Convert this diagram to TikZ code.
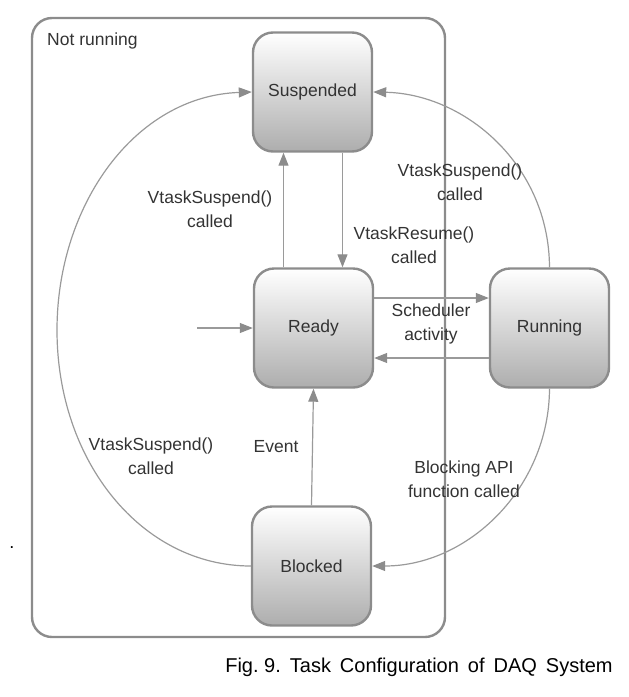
\documentclass[tikz,border=0pt]{standalone}
\usepackage{fontspec}
\setmainfont{Liberation Sans}
\usetikzlibrary{arrows.meta}
\definecolor{edgegray}{HTML}{8C8C8C}
\definecolor{linegray}{HTML}{9A9A9A}
\definecolor{txtgray}{HTML}{333333}
\newcommand{\capgap}{\hspace{9pt}}
\begin{document}
\begin{tikzpicture}[x=1pt,y=-1pt,
  state/.style={draw=edgegray, line width=2.4pt, rounded corners=20pt,
    minimum width=119pt, minimum height=119pt, inner sep=0pt,
    top color=white, bottom color=black!32,
    text=txtgray, font=\fontsize{17.5}{22}\selectfont},
  lbl/.style={text=txtgray, align=center, inner sep=0pt,
    font=\fontsize{17.5}{23.5}\selectfont},
  conn/.style={draw=linegray, line width=1.2pt,
    -{Triangle[length=13pt,width=10pt,fill=edgegray,color=edgegray]}}
]
\useasboundingbox (0,0) rectangle (629,697);
% frame
\node[draw=edgegray, line width=2.4pt, rounded corners=20pt, minimum width=413pt,
  minimum height=619pt, inner sep=0pt] (frame) at (238.5,327.5) {};
\node[lbl, anchor=west] (nr) at (47,41) {Not running};
% states
\node[state] (susp) at (312.5,92) {Suspended};
\node[state] (ready) at (313.5,328) {Ready};
\node[state] (run) at (549.5,328) {Running};
\node[state] (blk) at (311.5,566) {Blocked};
% straight connectors
\draw[conn] ([xshift=-30pt]ready.north) -- ([xshift=-29pt]susp.south);
\draw[conn] ([xshift=30pt]susp.south) -- ([xshift=29pt]ready.north);
\draw[conn] ([yshift=30pt]ready.east) -- ([yshift=30pt]run.west);
\draw[conn] ([yshift=-30pt]run.west) -- ([yshift=-30pt]ready.east);
\draw[conn] (blk.north) -- (ready.south);
\coordinate (start) at (197,328);
\draw[conn] (start) -- (ready.west);
% curved connectors
\draw[conn] (blk.west) .. controls (142,566) and (57,462) .. (57,330)
  .. controls (57,205) and (135,96) .. (susp.west);
\draw[conn] (run.north) .. controls (549,165) and (465,94) .. (susp.east);
\draw[conn] (run.south) .. controls (549,488) and (468,566) .. (blk.east);
% labels
\node[lbl] (l1) at (210,209) {VtaskSuspend()\\called};
\node[lbl] (l2) at (414,245) {VtaskResume()\\called};
\node[lbl] (l3) at (460,182) {VtaskSuspend()\\called};
\node[lbl] (l4) at (431,324) {Scheduler\\activity};
\node[lbl] (l5) at (276,447) {Event};
\node[lbl] (l6) at (151,456) {VtaskSuspend()\\called};
\node[lbl] (l7) at (464,479) {Blocking API\\function called};
\node[inner sep=0pt, font=\fontsize{18}{20}\selectfont] (dot) at (12,548) {.};
\node[inner sep=0pt, font=\fontsize{20}{24}\selectfont, text=black] (cap) at (419,667)
  {Fig.\ 9.\capgap Task\capgap Configuration\capgap of\capgap DAQ\capgap System};
\end{tikzpicture}
\end{document}
